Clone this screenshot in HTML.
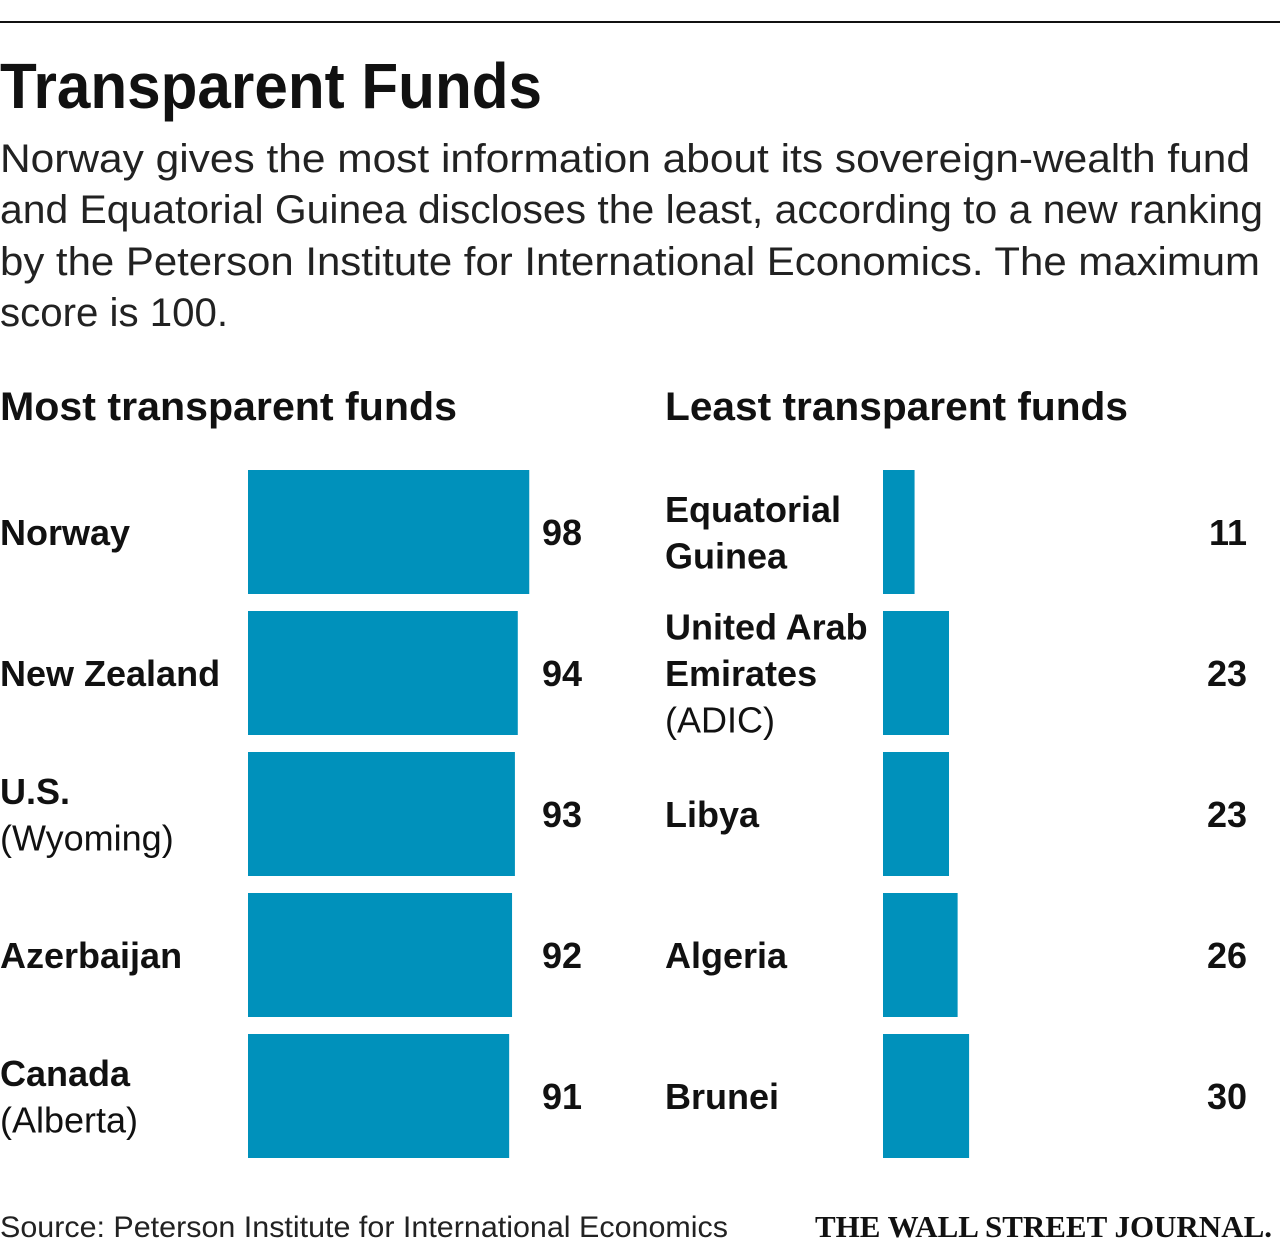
<!DOCTYPE html>
<html><head><meta charset="utf-8"><style>
html,body{margin:0;padding:0;background:#fff;}
svg{display:block;font-family:"Liberation Sans",sans-serif;}
</style></head><body>
<svg width="1280" height="1247" viewBox="0 0 1280 1247">
<rect x="0" y="21" width="1280" height="2" fill="#111"/>
<text x="0" y="108" font-size="64" font-weight="bold" textLength="542" lengthAdjust="spacingAndGlyphs" fill="#111">Transparent Funds</text>
<g font-size="40" fill="#222">
<text x="0" y="172" textLength="1250" lengthAdjust="spacingAndGlyphs">Norway gives the most information about its sovereign-wealth fund</text>
<text x="0" y="223" textLength="1263" lengthAdjust="spacingAndGlyphs">and Equatorial Guinea discloses the least, according to a new ranking</text>
<text x="0" y="275" textLength="1260" lengthAdjust="spacingAndGlyphs">by the Peterson Institute for International Economics. The maximum</text>
<text x="0" y="326" textLength="228" lengthAdjust="spacingAndGlyphs">score is 100.</text>
</g>
<text x="0" y="420" font-size="40" font-weight="bold" textLength="457" lengthAdjust="spacingAndGlyphs" fill="#111">Most transparent funds</text>
<text x="665" y="420" font-size="40" font-weight="bold" textLength="463" lengthAdjust="spacingAndGlyphs" fill="#111">Least transparent funds</text>
<g id="bars"></g>
<text x="0" y="1237" font-size="30" fill="#222" textLength="728" lengthAdjust="spacingAndGlyphs">Source: Peterson Institute for International Economics</text>
<text x="815" y="1237" font-size="31" font-weight="bold" font-family="Liberation Serif, serif" fill="#111" textLength="457" lengthAdjust="spacingAndGlyphs">THE WALL STREET JOURNAL.</text>
</svg>
<script>
const leftCountries = [["Norway"],["New Zealand"],["U.S.","(Wyoming)"],["Azerbaijan"],["Canada","(Alberta)"]];
const leftValues = [98,94,93,92,91];
const rightCountries = [["Equatorial","Guinea"],["United Arab","Emirates","(ADIC)"],["Libya"],["Algeria"],["Brunei"]];
const rightValues = [11,23,23,26,30];

const NS="http://www.w3.org/2000/svg";
const g=document.getElementById('bars');
const pxPerUnit=2.87;
const rowY=i=>470+i*141;
const barH=124;
function mk(tag,attrs){const e=document.createElementNS(NS,tag);for(const k in attrs)e.setAttribute(k,attrs[k]);g.appendChild(e);return e;}
function panel(names,vals,labelX,barX,valX,side){
  vals.forEach((v,i)=>{
    const y=rowY(i);
    const r=mk('rect',{x:barX,y:y,width:v*pxPerUnit,height:barH,fill:'#0091bb'});
    
    
    const t=mk('text',{x:valX,y:y+barH/2+13,'font-size':36,'font-weight':'bold','text-anchor':'end',fill:'#111'});
    t.textContent=v;
    
    
    const lines=names[i];
    const lh=46.5;
    const start=y+barH/2+13-(lines.length-1)*lh/2;
    lines.forEach((ln,j)=>{
      const bold=!ln.startsWith('(');
      const l=mk('text',{x:labelX,y:start+j*lh,'font-size':36,'font-weight':bold?'bold':'normal',fill:'#111'});
      l.textContent=ln;
      
      
    });
  });
}
panel(leftCountries,leftValues,0,248,582,'left');
panel(rightCountries,rightValues,665,883,1247,'right');
</script>
</body></html>
